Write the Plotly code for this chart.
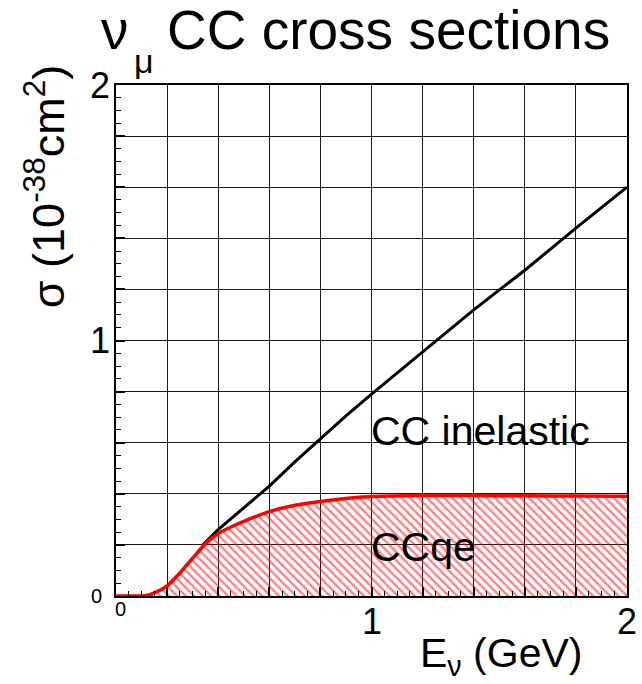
import plotly.graph_objects as go

# Neutrino energy (GeV) and cross sections (10^-38 cm^2)
qe_energy = [0.0, 0.10, 0.12, 0.15, 0.20, 0.25, 0.30, 0.35, 0.40, 0.45, 0.50,
             0.60, 0.70, 0.80, 0.90, 1.00, 1.20, 1.40, 1.60, 1.80, 2.00]
qe_sigma = [0.0, 0.0, 0.002, 0.012, 0.040, 0.090, 0.148, 0.205, 0.245, 0.270, 0.292,
            0.330, 0.355, 0.370, 0.382, 0.389, 0.393, 0.393, 0.392, 0.391, 0.390]

cc_energy = [0.34, 0.40, 0.50, 0.60, 0.70, 0.80, 0.90, 1.00, 1.20, 1.40, 1.60, 1.80, 2.00]
cc_sigma = [0.200, 0.260, 0.345, 0.430, 0.525, 0.615, 0.705, 0.790, 0.955, 1.120, 1.275, 1.440, 1.600]

# Axis tick labels: (value, text, font size)
x_tick_labels = [(0, "0", 20), (1, "1", 36), (2, "2", 36)]
y_tick_labels = [(0, "0", 20), (1, "1", 36), (2, "2", 36)]

FONT = "Liberation Sans, Arial, Helvetica, sans-serif"

fig = go.Figure()

fig.add_trace(go.Scatter(
    x=cc_energy, y=cc_sigma, mode="lines",
    line=dict(color="black", width=3),
    showlegend=False, hoverinfo="skip",
))

fig.add_trace(go.Scatter(
    x=qe_energy, y=qe_sigma, mode="lines",
    line=dict(color="red", width=3.5, shape="spline", smoothing=0.5),
    fill="tozeroy", fillcolor="rgba(0,0,0,0)",
    fillpattern=dict(shape="\\", fgcolor="red", bgcolor="rgba(0,0,0,0)",
                     size=6, solidity=0.4),
    showlegend=False, hoverinfo="skip",
))

axis_common = dict(
    range=[0, 2], tick0=0, dtick=0.2,
    showgrid=True, gridcolor="#1a1a1a", gridwidth=1,
    zeroline=False,
    showline=True, linecolor="black", linewidth=2, mirror=True,
    ticks="inside", ticklen=9, tickwidth=1.5, tickcolor="black",
    showticklabels=False,
    minor=dict(ticks="inside", dtick=0.05, ticklen=5, tickwidth=1.2,
               tickcolor="black", showgrid=False),
)

fig.update_layout(
    width=642, height=684,
    margin=dict(l=116, r=15, t=85, b=88),
    plot_bgcolor="white", paper_bgcolor="white",
    xaxis=axis_common, yaxis=axis_common,
    font=dict(family=FONT, color="black"),
)

annotations = []
for val, txt, size in x_tick_labels:
    annotations.append(dict(
        x=val, y=0, xref="x", yref="y", text=txt, showarrow=False,
        xanchor="center", yanchor="top",
        yshift=(0 if size < 30 else -3),
        xshift=(4 if size < 30 else 0),
        font=dict(size=size, family=FONT, color="black"),
    ))
for val, txt, size in y_tick_labels:
    annotations.append(dict(
        x=0, y=val, xref="x", yref="y", text=txt, showarrow=False,
        xanchor="right", yanchor="middle", xshift=-(12 if size < 30 else 4),
        font=dict(size=size, family=FONT, color="black"),
    ))

# Curve labels
annotations.append(dict(
    x=0.99, y=0.646, xref="x", yref="y", text="CC inelastic", showarrow=False,
    xanchor="left", yanchor="middle",
    font=dict(size=41, family=FONT, color="black"),
))
annotations.append(dict(
    x=0.99, y=0.19, xref="x", yref="y", text="CCqe", showarrow=False,
    xanchor="left", yanchor="middle",
    font=dict(size=41, family=FONT, color="black"),
))

# Title: nu, lowered mu subscript, then the main text
annotations.append(dict(
    x=(612 - 116) / 511, y=1, xref="paper", yref="paper",
    text="CC cross sections", showarrow=False,
    xanchor="right", yanchor="bottom", yshift=22,
    font=dict(size=55, family=FONT, color="black"),
))
annotations.append(dict(
    x=(131 - 116) / 511, y=1, xref="paper", yref="paper",
    text="\u03bd", showarrow=False,
    xanchor="right", yanchor="bottom", yshift=22,
    font=dict(size=55, family=FONT, color="black"),
))
annotations.append(dict(
    x=(132 - 116) / 511, y=1, xref="paper", yref="paper",
    text="\u03bc", showarrow=False,
    xanchor="left", yanchor="middle", yshift=24,
    font=dict(size=34, family=FONT, color="black"),
))

# Axis titles
annotations.append(dict(
    x=0.99, y=0, xref="paper", yref="paper",
    text="E<sub>\u03bd</sub> (GeV)", showarrow=False,
    xanchor="right", yanchor="top", yshift=-32, xshift=-38,
    font=dict(size=41, family=FONT, color="black"),
))
annotations.append(dict(
    x=0, y=0.80, xref="paper", yref="paper",
    text="\u03c3 (10<sup>-38</sup>cm<sup>2</sup>)", showarrow=False,
    textangle=-90, xanchor="right", yanchor="middle", xshift=-40,
    font=dict(size=45, family=FONT, color="black"),
))

fig.update_layout(annotations=annotations)

fig.write_html("out.html")
